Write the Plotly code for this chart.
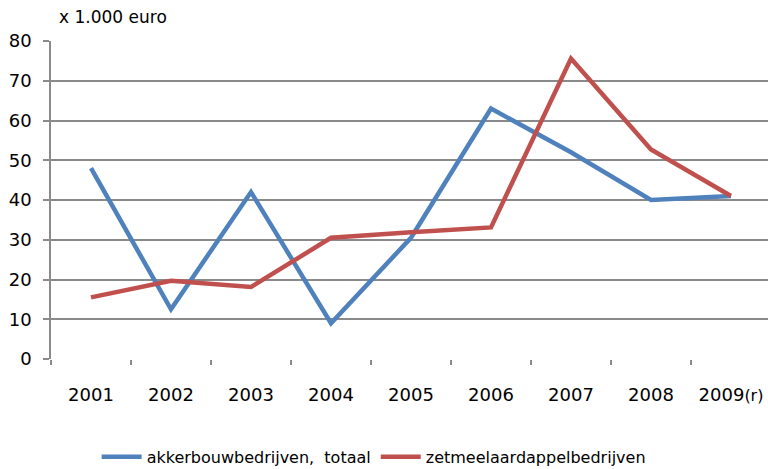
import plotly.graph_objects as go

years = ["2001", "2002", "2003", "2004", "2005", "2006", "2007", "2008", "2009"]
tick_labels = ["2001", "2002", "2003", "2004", "2005", "2006", "2007", "2008",
               "2009<span style='font-size:16px'>(r)</span>"]
akkerbouw = [48, 12.5, 42, 9, 30.5, 63, 52, 40, 41]
zetmeel = [15.5, 19.7, 18.1, 30.5, 31.9, 33.1, 75.6, 52.7, 41]

FONT = "DejaVu Sans"
GRID = "#8a8a8a"

fig = go.Figure()
fig.add_trace(go.Scatter(x=years, y=akkerbouw, mode="lines",
                         name="akkerbouwbedrijven,  totaal",
                         line=dict(color="#4F81BD", width=4.5)))
fig.add_trace(go.Scatter(x=years, y=zetmeel, mode="lines",
                         name="zetmeelaardappelbedrijven",
                         line=dict(color="#C0504D", width=4.5)))

fig.update_layout(
    width=768, height=469,
    margin=dict(l=51, r=0, t=41, b=110),
    paper_bgcolor="white", plot_bgcolor="white",
    font=dict(family=FONT, size=16, color="black"),
    showlegend=True,
    legend=dict(orientation="h", x=0.45, xanchor="center",
                yref="container", y=0.026, yanchor="middle",
                font=dict(size=16, family=FONT), itemwidth=40,
                traceorder="normal"),
    xaxis=dict(type="category", range=[-0.5, 8.4625],
               tickmode="array", tickvals=years, ticktext=tick_labels,
               tickson="boundaries", ticks="outside", ticklen=5,
               tickcolor=GRID, tickwidth=1.5,
               showgrid=False, showline=False, zeroline=False,
               ticklabelstandoff=23,
               tickfont=dict(size=18, family=FONT)),
    yaxis=dict(range=[0, 80], tickvals=[0, 10, 20, 30, 40, 50, 60, 70, 80],
               ticks="outside", ticklen=6, tickcolor=GRID, tickwidth=1.5,
               showgrid=True, gridcolor=GRID, gridwidth=1.5,
               showline=True, linecolor=GRID, linewidth=1.5,
               zeroline=False, ticklabelstandoff=8,
               tickfont=dict(size=18, family=FONT)),
    annotations=[dict(text="x 1.000 euro", xref="paper", x=0.008, xanchor="left",
                      yref="paper", y=(359 - 17) / 318, yanchor="middle",
                      showarrow=False, font=dict(size=17, family=FONT))],
)

fig.write_html("out.html", config={"displayModeBar": False},
               post_script="document.body.style.margin='0';document.body.style.padding='0';")
